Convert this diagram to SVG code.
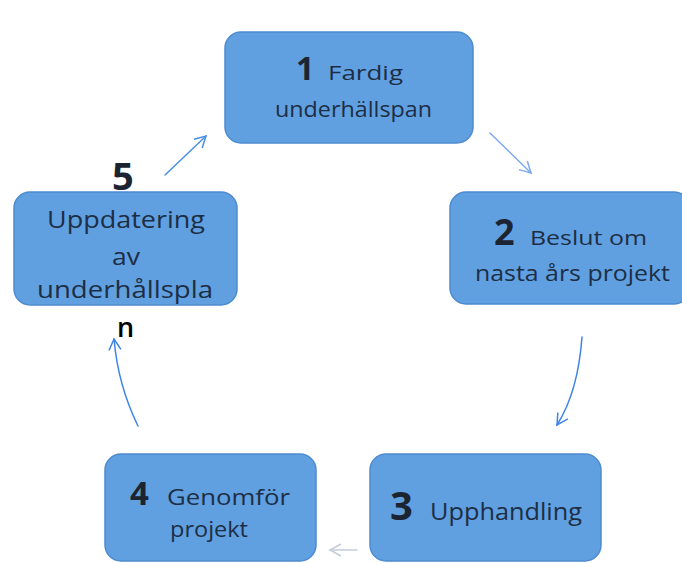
<svg xmlns="http://www.w3.org/2000/svg" width="682" height="563" viewBox="0 0 682 563">
<style>
.box{fill:#60a0e0;stroke:#4d8bcf;stroke-width:1.5}
.num{font-family:"Open Sans","Liberation Sans",sans-serif;font-weight:bold;fill:#1b2430}
.lbl{font-family:"Open Sans","Liberation Sans",sans-serif;fill:#1d2e44}
.out{font-family:"Open Sans","Liberation Sans",sans-serif;font-weight:600;fill:#000000}
.arr{fill:none;stroke-width:1.5;stroke-linecap:round}
</style>
<defs>
<marker id="ah" markerWidth="14" markerHeight="14" refX="12" refY="7" orient="auto" markerUnits="userSpaceOnUse">
<path d="M1,1 L12,7 L1,13" fill="none" stroke="context-stroke" stroke-width="1.5"/>
</marker>
</defs>
<rect width="682" height="563" fill="#ffffff"/>
<g id="connectors">
<path class="arr" d="M165,175 L206,136" stroke="#4a8fe8" marker-end="url(#ah)"/>
<path class="arr" d="M490,133 L531,173" stroke="#7fa9ee" marker-end="url(#ah)"/>
<path class="arr" d="M582,337 Q578,392 557,425" stroke="#3d84ea" marker-end="url(#ah)"/>
<path class="arr" d="M357,550 L330,550" stroke="#c4ccdc" marker-end="url(#ah)"/>
<path class="arr" d="M138,426 Q118,385 114,339" stroke="#3d84ea" marker-end="url(#ah)"/>
</g>
<g id="node1">
<rect class="box" x="225" y="32" width="248" height="111" rx="16"/>
<text class="num" x="296" y="80" font-size="32">1</text>
<text class="lbl" x="328" y="80" font-size="20" textLength="75" lengthAdjust="spacingAndGlyphs">Fardig</text>
<text class="lbl" x="275" y="117" font-size="21" textLength="157" lengthAdjust="spacingAndGlyphs">underhällspan</text>
</g>
<g id="node2">
<rect class="box" x="450" y="192" width="240" height="112" rx="16"/>
<text class="num" x="494" y="245" font-size="36">2</text>
<text class="lbl" x="530" y="245" font-size="20" textLength="117" lengthAdjust="spacingAndGlyphs">Beslut om</text>
<text class="lbl" x="475" y="281" font-size="21" textLength="195" lengthAdjust="spacingAndGlyphs">nasta års projekt</text>
</g>
<g id="node3">
<rect class="box" x="370" y="454" width="231" height="107" rx="16"/>
<text class="num" x="390" y="520" font-size="40">3</text>
<text class="lbl" x="430" y="520" font-size="24" textLength="152" lengthAdjust="spacingAndGlyphs">Upphandling</text>
</g>
<g id="node4">
<rect class="box" x="105" y="454" width="211" height="107" rx="16"/>
<text class="num" x="130" y="505" font-size="33">4</text>
<text class="lbl" x="167" y="505" font-size="21" textLength="123" lengthAdjust="spacingAndGlyphs">Genomför</text>
<text class="lbl" x="170" y="537" font-size="21" textLength="78" lengthAdjust="spacingAndGlyphs">projekt</text>
</g>
<g id="node5">
<rect class="box" x="14" y="192" width="223" height="113" rx="16"/>
<text class="num" x="112" y="190" font-size="38" fill="#2a2a2a">5</text>
<text class="lbl" x="47" y="228" font-size="23" textLength="158" lengthAdjust="spacingAndGlyphs">Uppdatering</text>
<text class="lbl" x="112" y="265" font-size="23" textLength="28" lengthAdjust="spacingAndGlyphs">av</text>
<text class="lbl" x="37" y="298" font-size="23" textLength="176" lengthAdjust="spacingAndGlyphs">underhållspla</text>
<text class="out" x="117" y="337" font-size="27">n</text>
</g>
</svg>
